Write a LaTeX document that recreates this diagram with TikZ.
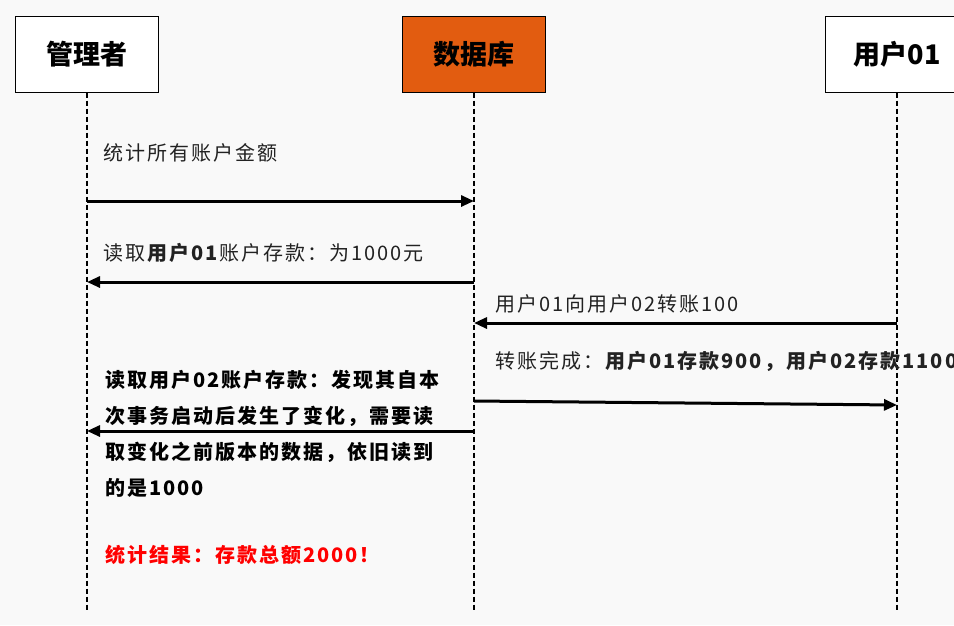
\documentclass[tikz,border=0pt]{standalone}
\usepackage{fontspec}
\newfontfamily\cjk[LetterSpace=10]{Noto Sans CJK SC}
\newfontfamily\cjkhead{Noto Sans CJK SC}
\usetikzlibrary{arrows.meta, positioning}
\definecolor{dborange}{RGB}{226,92,16}
\definecolor{bggray}{RGB}{249,249,249}
\definecolor{txtgray}{RGB}{34,34,34}

\begin{document}
\begin{tikzpicture}[
  x=1pt, y=-1pt,
  actor/.style={rectangle, draw=black, line width=1pt, fill=white, minimum width=143pt, minimum height=76pt, inner sep=0pt, font=\cjkhead\bfseries\fontsize{27}{30}\selectfont},
  lifeline/.style={draw=black, line width=1.4pt, dash pattern=on 5pt off 3pt},
  msg/.style={-{Triangle[length=13pt,width=11pt]}, line width=3pt, black},
  lbl/.style={anchor=west, inner sep=0pt, text=txtgray, font=\cjk\fontsize{20}{24}\selectfont},
  note/.style={anchor=north west, inner sep=0pt, align=left, font=\cjk\bfseries\fontsize{20}{36}\selectfont},
]
  \fill[bggray] (0,0) rectangle (954,625);
  \useasboundingbox (0,0) rectangle (954,625);

  % actors
  \node[actor] (mgr) at (87,54) {管理者};
  \node[actor, fill=dborange] (db) at (474,54) {数据库};
  \node[actor] (usr) at (897,54) {用户01};

  % lifelines
  \coordinate (bottom) at (0,610);
  \draw[lifeline] (mgr.south) -- (mgr |- bottom);
  \draw[lifeline] (db.south) -- (db |- bottom);
  \draw[lifeline] (usr.south) -- (usr |- bottom);

  % message rows
  \coordinate (m1) at (0,201);
  \coordinate (m2) at (0,282);
  \coordinate (m3) at (0,323);
  \coordinate (m4a) at (0,401);
  \coordinate (m4b) at (0,405);
  \coordinate (m5) at (0,431);

  \draw[msg] (mgr |- m1) -- (db |- m1);
  \draw[msg] (db |- m2) -- (mgr |- m2);
  \draw[msg] (usr |- m3) -- (db |- m3);
  \draw[msg] (db |- m4a) -- (usr |- m4b);
  \draw[msg] (db |- m5) -- (mgr |- m5);

  % labels
  \node[lbl] (lblsum) at (103,153) {统计所有账户金额};
  \node[lbl] (lblread1) at (103,253) {读取\textbf{用户01}账户存款：为1000元};
  \node[lbl] (lbltransfer) at (495,304) {用户01向用户02转账100};
  \node[lbl] (lbldone) at (495,361) {转账完成：\textbf{用户01存款900，用户02存款1100}};
  \node[note] (lblread2) at (105,370) {读取用户02账户存款：发现其自本\\次事务启动后发生了变化，需要读\\取变化之前版本的数据，依旧读到\\的是1000};
  \node[lbl, red, font=\cjk\bfseries\fontsize{20}{24}\selectfont] (lblresult) at (105,555) {统计结果：存款总额2000！};
\end{tikzpicture}
\end{document}
